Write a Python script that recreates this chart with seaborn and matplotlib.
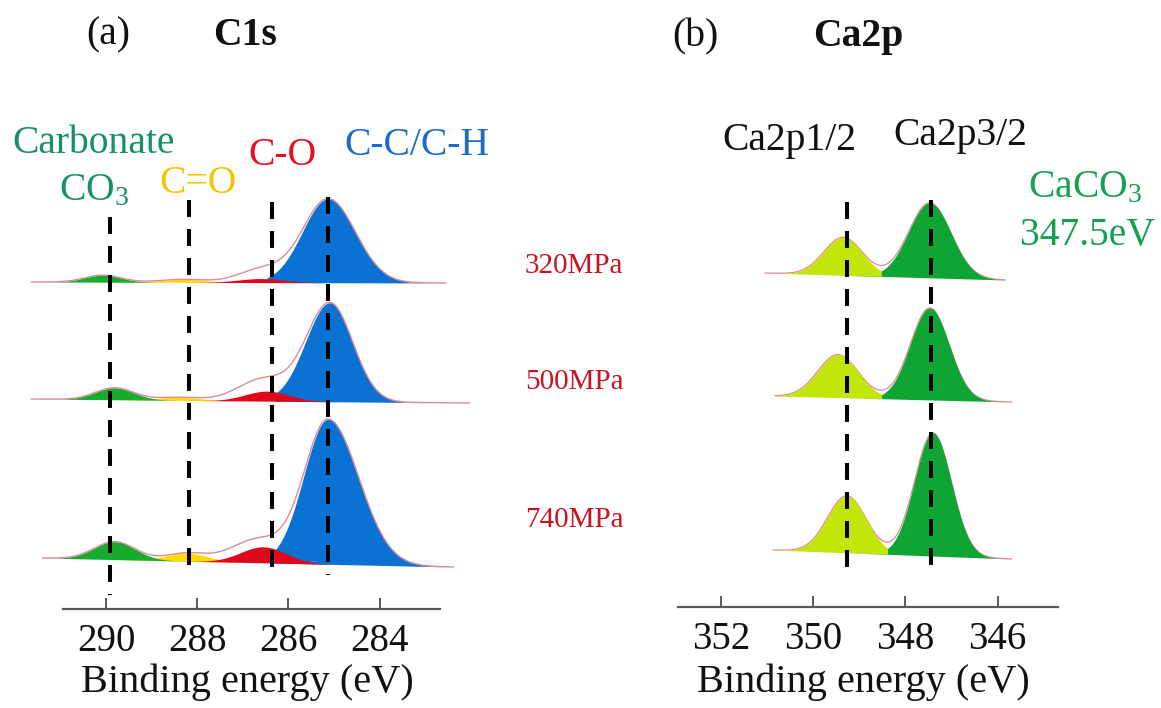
import numpy as np
import pandas as pd
import matplotlib
matplotlib.use("Agg")
import matplotlib.pyplot as plt
import seaborn as sns

sns.set_theme(style="white")
plt.rcParams["font.family"] = ["Liberation Serif", "DejaVu Serif"]
plt.rcParams["mathtext.fontset"] = "custom"
plt.rcParams["mathtext.rm"] = "Liberation Serif"
plt.rcParams["mathtext.it"] = "Liberation Serif:italic"
plt.rcParams["mathtext.bf"] = "Liberation Serif:bold"

# ---------------- data ----------------
pressures = ["320MPa", "500MPa", "740MPa"]

# C1s traces: energy range (eV) and stacking offset / background at both ends
c1s_e_high = [291.64, 291.64, 291.40]
c1s_e_low = [282.55, 281.98, 282.38]
c1s_bg_high = [327, 210, 51]
c1s_bg_low = [326, 206, 42]
# fitted components: centre (eV), height (a.u.), sigma (eV)
co3_center = [290.07, 289.81, 289.81]
co3_height = [7, 12, 18]
co3_sigma = [0.40, 0.42, 0.45]
cdo_center = [288.30, 288.40, 288.22]
cdo_height = [3, 3, 8]
cdo_sigma = [0.50, 0.45, 0.45]
co_center = [286.60, 286.47, 286.55]
co_height = [4, 10, 16]
co_sigma = [0.50, 0.48, 0.50]
cc_center = [285.13, 285.09, 285.13]
cc_height = [84, 99, 145]
cc_sigma_high = [0.56, 0.53, 0.53]
cc_sigma_low = [0.60, 0.50, 0.67]
cc_fill_limit = [286.47, 286.30, 286.35]
env_center = [286.6, 286.7, 287.0]
env_height = [9, 12, 9]
env_sigma = [0.50, 0.55, 0.50]
c1s_ref_lines = [289.91, 288.17, 286.36, 285.14]
c1s_ticks = [290, 288, 286, 284]

# Ca2p traces
ca_e_high = [351.05, 350.83, 350.87]
ca_e_low = [345.84, 345.69, 345.69]
ca_bg_high = [334, 211, 57]
ca_bg_low = [327, 205, 48]
ca12_center = [349.35, 349.46, 349.27]
ca12_height = [38, 43, 57]
ca12_sigma = [0.42, 0.44, 0.42]
ca32_center = [347.47, 347.47, 347.40]
ca32_height = [75, 92, 123]
ca32_sigma = [0.46, 0.42, 0.40]
ca_ref_lines = [349.27, 347.45]
ca_ticks = [352, 350, 348, 346]

# ---------------- layout / style ----------------
W, H = 1161, 708
fig = plt.figure(figsize=(W / 100, H / 100), dpi=100)

C_BLUE = "#0a72d2"
C_RED = "#e0071c"
C_YEL = "#ffdc00"
C_GRN = "#16ad2e"
C_LGRN = "#c2e60a"
C_DGRN = "#0fa534"
C_ENV = "#e08a96"

FS_TICK = 28
FS_LABEL = 29
FS_ANN = 28.5
FS_MPA = 21


def gauss(x, c, h, s):
    return h * np.exp(-0.5 * ((x - c) / s) ** 2)


def agauss(x, c, h, s_hi, s_lo):
    s = np.where(x > c, s_hi, s_lo)
    return h * np.exp(-0.5 * ((x - c) / s) ** 2)


def axes_px(left, right, bottom, top):
    return fig.add_axes([left / W, 1 - bottom / H, (right - left) / W, (bottom - top) / H])


def style_axis(ax, ticks, bounds):
    ax.set_xticks(ticks)
    ax.set_xticklabels([str(t) for t in ticks])
    ax.set_yticks([])
    for s in ["top", "left", "right"]:
        ax.spines[s].set_visible(False)
    ax.spines["bottom"].set_bounds(*bounds)
    ax.spines["bottom"].set_color("#5a5a5a")
    ax.spines["bottom"].set_linewidth(1.6)
    ax.tick_params(axis="x", direction="in", length=8, width=1.4, color="#5a5a5a",
                   labelsize=FS_TICK, pad=10, labelcolor="#111111", bottom=True)
    ax.set_facecolor("none")


def ftext(x, y, s, **kw):
    fig.text(x / W, 1 - y / H, s, **kw)


# ---------------- panel (a) C1s ----------------
axL = axes_px(20, 470, 609, 120)
axL.set_xlim(290 + (106 - 20) / 45.6, 290 - (470 - 106) / 45.6)
axL.set_ylim(0, 489)

for i, p in enumerate(pressures):
    e = np.linspace(c1s_e_high[i], c1s_e_low[i], 900)
    bg = c1s_bg_low[i] + (c1s_bg_high[i] - c1s_bg_low[i]) * (e - c1s_e_low[i]) / (c1s_e_high[i] - c1s_e_low[i])
    g_co3 = gauss(e, co3_center[i], co3_height[i], co3_sigma[i])
    g_cdo = gauss(e, cdo_center[i], cdo_height[i], cdo_sigma[i])
    g_co = gauss(e, co_center[i], co_height[i], co_sigma[i])
    g_cc = agauss(e, cc_center[i], cc_height[i], cc_sigma_high[i], cc_sigma_low[i])
    g_env = gauss(e, env_center[i], env_height[i], env_sigma[i])
    axL.fill_between(e, bg, bg + g_cc, where=e <= cc_fill_limit[i], color=C_BLUE, lw=0, zorder=2)
    axL.fill_between(e, bg, bg + g_cdo, color=C_YEL, lw=0, zorder=3)
    axL.fill_between(e, bg, bg + g_co3, color=C_GRN, lw=0, zorder=3)
    axL.fill_between(e, bg, bg + g_co, color=C_RED, lw=0, zorder=4)
    total = bg + g_co3 + g_cdo + g_co + g_cc + g_env
    df = pd.DataFrame({"E": e, "I": total})
    sns.lineplot(data=df, x="E", y="I", ax=axL, color=C_ENV, lw=1.0, sort=False, zorder=5)

c1s_line_top = [392, 409, 407, 412]
c1s_line_bottom = [14, 32, 32, 34]
for x, t, b in zip(c1s_ref_lines, c1s_line_top, c1s_line_bottom):
    axL.plot([x, x], [t, b], color="black", lw=2.9, dashes=(4.2, 3.0), zorder=6,
             solid_capstyle="butt", dash_capstyle="butt")
style_axis(axL, c1s_ticks, (290.94, 282.68))
axL.set_xlabel("")
axL.set_ylabel("")

# ---------------- panel (b) Ca2p ----------------
axR = axes_px(700, 1060, 607, 120)
axR.set_xlim(352 + (721 - 700) / 46.1, 352 - (1060 - 721) / 46.1)
axR.set_ylim(0, 487)

for i, p in enumerate(pressures):
    e = np.linspace(ca_e_high[i], ca_e_low[i], 900)
    bg = ca_bg_low[i] + (ca_bg_high[i] - ca_bg_low[i]) * (e - ca_e_low[i]) / (ca_e_high[i] - ca_e_low[i])
    g12 = gauss(e, ca12_center[i], ca12_height[i], ca12_sigma[i])
    g32 = gauss(e, ca32_center[i], ca32_height[i], ca32_sigma[i])
    axR.fill_between(e, bg, bg + g32, color=C_DGRN, lw=0, zorder=2)
    axR.fill_between(e, bg, bg + g12, where=g12 >= g32, color=C_LGRN, lw=0, zorder=3)
    df = pd.DataFrame({"E": e, "I": bg + g12 + g32})
    sns.lineplot(data=df, x="E", y="I", ax=axR, color=C_ENV, lw=0.9, sort=False, zorder=1)

ca_line_top = [405, 407]
ca_line_bottom = [29, 30]
for x, t, b in zip(ca_ref_lines, ca_line_top, ca_line_bottom):
    axR.plot([x, x], [t, b], color="black", lw=2.9, dashes=(4.2, 3.0), zorder=6,
             solid_capstyle="butt", dash_capstyle="butt")
style_axis(axR, ca_ticks, (352.93, 344.7))
axR.set_xlabel("")
axR.set_ylabel("")

# ---------------- texts ----------------
ftext(247, 692, "Binding energy (eV)", fontsize=FS_LABEL, ha="center", va="baseline", color="#111111")
ftext(863, 692, "Binding energy (eV)", fontsize=FS_LABEL, ha="center", va="baseline", color="#111111")

ftext(108, 44, "(a)", fontsize=FS_ANN, ha="center", va="baseline", color="#111111")
ftext(245, 45, "C1s", fontsize=FS_ANN, ha="center", va="baseline", weight="bold", color="#111111")
ftext(695, 46, "(b)", fontsize=FS_ANN, ha="center", va="baseline", color="#111111")
ftext(858, 46, "Ca2p", fontsize=FS_ANN, ha="center", va="baseline", weight="bold", color="#111111")

ftext(94, 153, "Carbonate", fontsize=FS_ANN, ha="center", va="baseline", color="#17906a")
ftext(94, 200, r"CO$_3$", fontsize=FS_ANN, ha="center", va="baseline", color="#17906a")
ftext(198, 193, "C=O", fontsize=FS_ANN, ha="center", va="baseline", color="#f5c400")
ftext(282, 165, "C-O", fontsize=FS_ANN, ha="center", va="baseline", color="#e5101c")
ftext(417, 155, "C-C/C-H", fontsize=FS_ANN, ha="center", va="baseline", color="#1a6cc8")

mpa_y = [273, 389, 527]
for lab, y in zip(pressures, mpa_y):
    ftext(525, y, lab, fontsize=FS_MPA, ha="left", va="baseline", color="#c8141e")

ftext(789, 150, "Ca2p1/2", fontsize=FS_ANN, ha="center", va="baseline", color="#111111")
ftext(960, 145, "Ca2p3/2", fontsize=FS_ANN, ha="center", va="baseline", color="#111111")
ftext(1085, 197, r"CaCO$_3$", fontsize=FS_ANN, ha="center", va="baseline", color="#14a050")
ftext(1088, 245, "347.5eV", fontsize=FS_ANN, ha="center", va="baseline", color="#14a050")

fig.savefig("out.png", dpi=100, facecolor="white")
